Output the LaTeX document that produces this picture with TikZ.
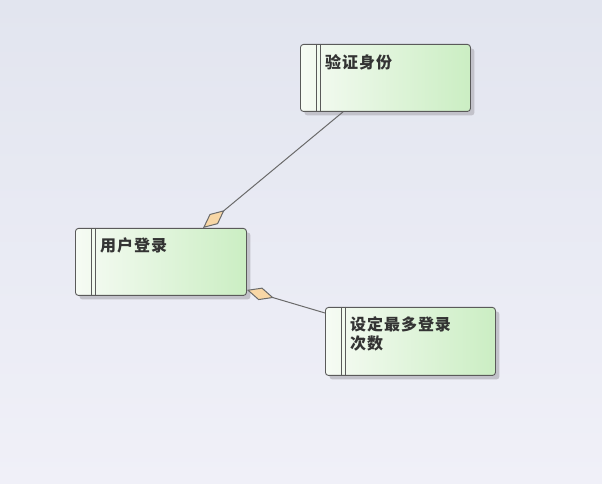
\documentclass[tikz,border=0pt]{standalone}
\usepackage{fontspec}
\newfontfamily\cjk[LetterSpace=6]{Noto Sans CJK SC}
\usetikzlibrary{arrows.meta,shadows}
\definecolor{bgtop}{HTML}{E2E5EF}
\definecolor{bgbot}{HTML}{F0F0F8}
\definecolor{gl}{HTML}{F6FBF4}
\definecolor{gr}{HTML}{CBEEC3}
\definecolor{bd}{HTML}{5A5A5A}
\definecolor{dia}{HTML}{F8D7A6}
\definecolor{ln}{HTML}{6A6A6A}
\definecolor{shd}{HTML}{C2C2CA}
\begin{document}
\begin{tikzpicture}[x=1pt,y=1pt,
 box/.style={draw=bd, line width=0.9pt, rounded corners=3pt, minimum width=170pt, minimum height=67pt, inner sep=0pt, left color=gl, right color=gr, anchor=north west, drop shadow={shadow xshift=4pt, shadow yshift=-4pt, fill=shd, opacity=1}},
 lbl/.style={anchor=north west, inner sep=0pt, font=\cjk\bfseries\fontsize{16}{19}\selectfont, text=black!80, align=left},
 bar/.style={draw=bd, line width=0.9pt},
 conn/.style={draw=ln, line width=1pt}
]
\useasboundingbox (0,0) rectangle (602,484);
\shade[top color=bgtop, bottom color=bgbot] (0,0) rectangle (602,484);

\node[box] (v) at (300,440) {};
\node[box, minimum width=171pt] (u) at (75,256) {};
\node[box, minimum height=68pt] (s) at (325,177) {};

\foreach \n in {v,u,s}{
  \draw[bar] ([xshift=16pt]\n.north west) -- ([xshift=16pt]\n.south west);
  \draw[bar] ([xshift=20pt]\n.north west) -- ([xshift=20pt]\n.south west);
}

\node[lbl] (vt) at ([xshift=25pt,yshift=-10pt]v.north west) {验证身份};
\node[lbl] (ut) at ([xshift=25pt,yshift=-10pt]u.north west) {用户登录};
\node[lbl] (st) at ([xshift=25pt,yshift=-9pt]s.north west) {设定最多登录\\次数};

\draw[conn, -{Diamond[length=28pt,width=13pt,fill=dia]}] ([xshift=43pt]v.south west) -- ([xshift=128pt]u.north west);
\draw[conn, {Diamond[length=28pt,width=13pt,fill=dia]}-] ([yshift=6pt]u.south east) -- ([yshift=-6pt]s.north west);
\end{tikzpicture}
\end{document}
